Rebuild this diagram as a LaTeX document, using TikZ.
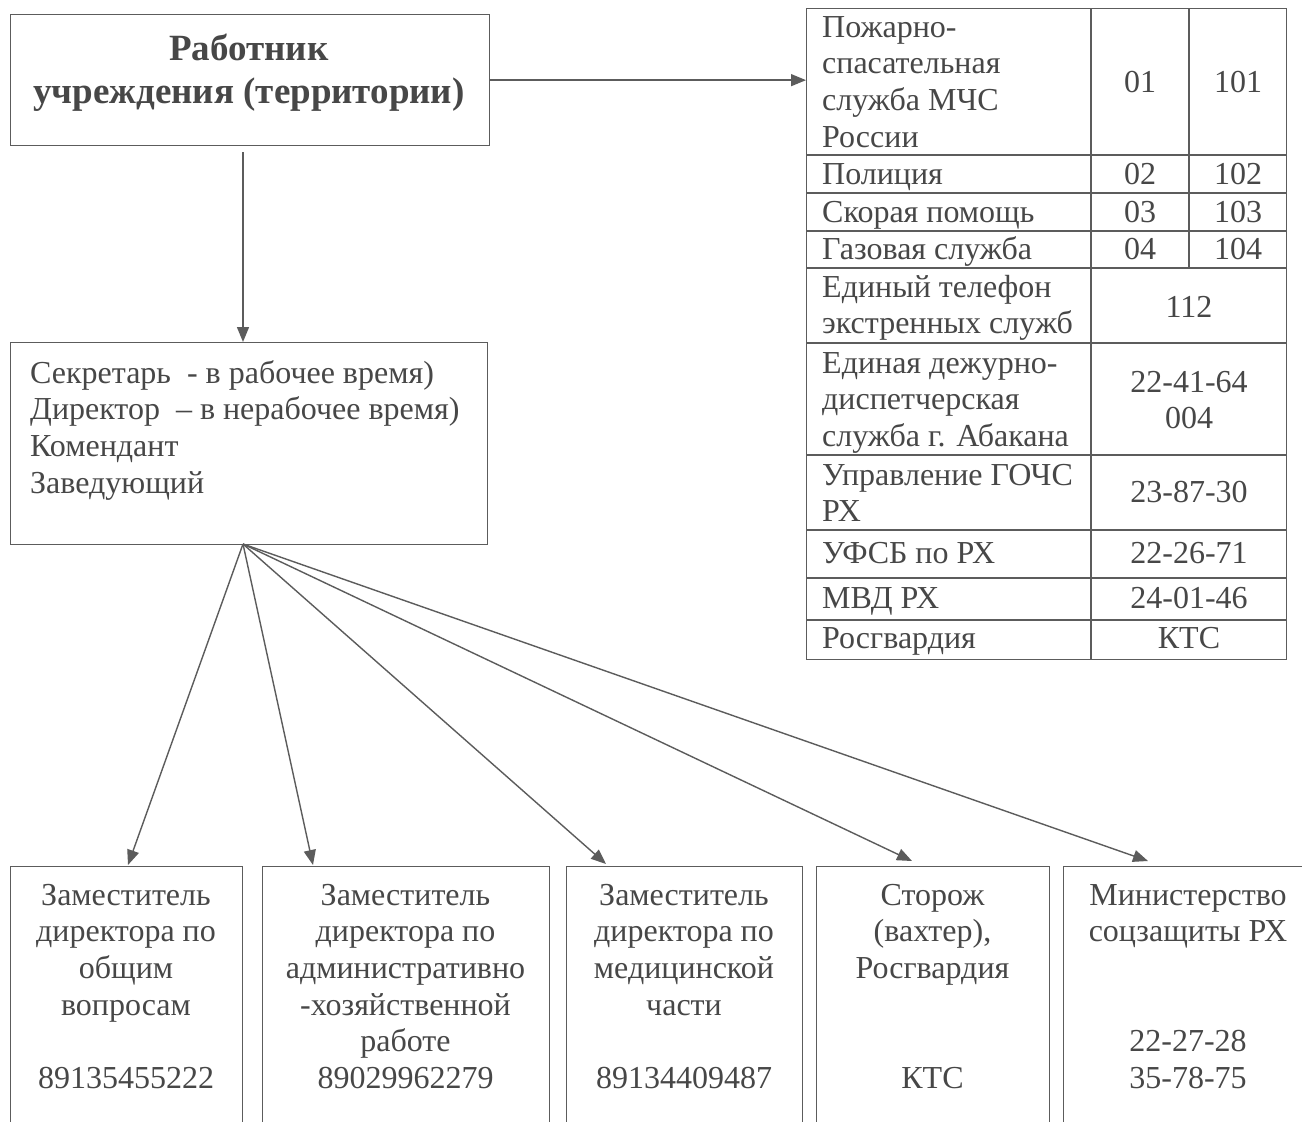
\documentclass[tikz,border=0pt]{standalone}
\usepackage{fontspec}
\setmainfont{Liberation Serif}
\usetikzlibrary{arrows.meta}
\definecolor{ink}{HTML}{474747}
\definecolor{ln}{HTML}{5c5c5c}
\newcommand\fs{\fontsize{32}{36.6}\selectfont}
\begin{document}
\begin{tikzpicture}[x=1pt,y=-1pt,font=\fs,text=ink,
  box/.style={draw=ln,line width=1.3pt,inner sep=0pt,anchor=north west},
  arr/.style={draw=ln,line width=1.4pt,-{Triangle[length=15pt,width=12pt]}},
  grid/.style={draw=ln,line width=1.2pt},
  ctext/.style={inner sep=0pt,align=center,anchor=north},
  ltext/.style={inner sep=0pt,align=left,anchor=north west},
  cell/.style={inner sep=0pt,anchor=base west},
  num/.style={inner sep=0pt,anchor=base}]
\useasboundingbox (0,0) rectangle (1302,1122);
\fill[white] (0,0) rectangle (1302,1122);
% top box
\node[box,minimum width=479pt,minimum height=131pt] (worker) at (10,14) {};
\node[inner sep=0pt,align=center,anchor=north,font=\bfseries\fontsize{37}{43}\selectfont] (workertext) at (249,60-30.1) {\strut Работник\\учреждения (территории)};
% duty box
\node[box,minimum width=477pt,minimum height=202pt] (duty) at (10,342) {};
\node[ltext] (dutytext) at (30,383-25.6) {\strut Секретарь\ \ - в рабочее время)\\Директор\ \ – в нерабочее время)\\Комендант\\Заведующий};
% table
\node[box,minimum width=480pt,minimum height=651pt] (tbl) at (806,8) {};
\foreach \y in {155,193,231,268,343,455,530,578,620}
  \draw[grid] (806,\y) -- (1286,\y);
\draw[grid] (1091,8) -- (1091,659);
\draw[grid] (1189,8) -- (1189,268);
\node[ltext] (r1) at (822,37-25.6) {\strut Пожарно-\\спасательная\\служба МЧС\\России};
\node[num] (r1a) at (1140,92) {01};
\node[num] (r1b) at (1238,92) {101};
\node[cell] (r2) at (822,184) {Полиция};
\node[num] (r2a) at (1140,184) {02};
\node[num] (r2b) at (1238,184) {102};
\node[cell] (r3) at (822,222) {Скорая помощь};
\node[num] (r3a) at (1140,222) {03};
\node[num] (r3b) at (1238,222) {103};
\node[cell] (r4) at (822,259) {Газовая служба};
\node[num] (r4a) at (1140,259) {04};
\node[num] (r4b) at (1238,259) {104};
\node[ltext] (r5) at (822,297-25.6) {\strut Единый телефон\\экстренных служб};
\node[num] (r5a) at (1189,317) {112};
\node[ltext] (r6) at (822,373-25.6) {\strut Единая дежурно-\\диспетчерская\\служба г. Абакана};
\node[ctext] (r6a) at (1189,392-25.6) {\strut 22-41-64\\004};
\node[ltext] (r7) at (822,485-25.6) {\strut Управление ГОЧС\\РХ};
\node[num] (r7a) at (1189,502) {23-87-30};
\node[cell] (r8) at (822,563) {УФСБ по РХ};
\node[num] (r8a) at (1189,563) {22-26-71};
\node[cell] (r9) at (822,608) {МВД РХ};
\node[num] (r9a) at (1189,608) {24-01-46};
\node[cell] (r10) at (822,648) {Росгвардия};
\node[num] (r10a) at (1189,648) {КТС};
% bottom boxes
\node[box,minimum width=232pt,minimum height=280pt] (b1) at (10,866) {};
\node[box,minimum width=287pt,minimum height=280pt] (b2) at (262,866) {};
\node[box,minimum width=236pt,minimum height=280pt] (b3) at (566,866) {};
\node[box,minimum width=233pt,minimum height=280pt] (b4) at (816,866) {};
\node[box,minimum width=250pt,minimum height=280pt] (b5) at (1063,866) {};
\node[ctext] (b1t) at (126,905-25.6) {\strut Заместитель\\директора по\\общим\\вопросам\\\strut\\89135455222};
\node[ctext] (b2t) at (405.5,905-25.6) {\strut Заместитель\\директора по\\административно\\-хозяйственной\\работе\\89029962279};
\node[ctext] (b3t) at (684,905-25.6) {\strut Заместитель\\директора по\\медицинской\\части\\\strut\\89134409487};
\node[ctext] (b4t) at (932.5,905-25.6) {\strut Сторож\\(вахтер),\\Росгвардия\\\strut\\\strut\\КТС};
\node[ctext] (b5t) at (1188,905-25.6) {\strut Министерство\\соцзащиты РХ\\\strut\\\strut\\22-27-28\\35-78-75};
% connectors
\draw[arr] (worker.east) -- (worker.east -| tbl.west);
\coordinate (vstart) at (243,152);
\draw[arr] (vstart) -- (vstart |- duty.north);
\coordinate (fan) at (243,544);
\coordinate (t1) at (128,865);
\coordinate (t2) at (313,865);
\coordinate (t3) at (606,864);
\coordinate (t4) at (912,861);
\coordinate (t5) at (1148,861);
\foreach \t in {t1,t2,t3,t4,t5}
  \draw[arr] (fan) -- (\t);
\end{tikzpicture}
\end{document}
